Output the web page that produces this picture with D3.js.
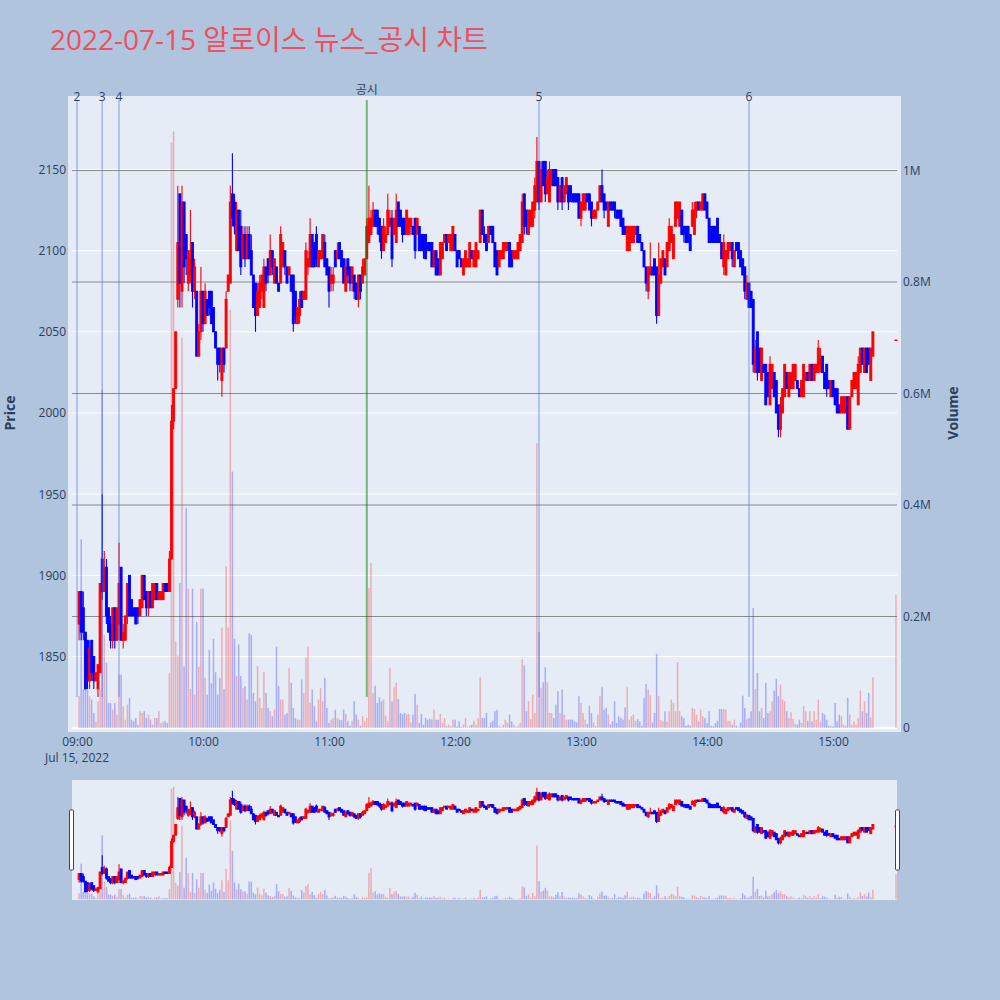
<!DOCTYPE html>
<html><head><meta charset="utf-8">
<script src="https://cdn.jsdelivr.net/npm/d3@7"></script>
<style>
body{margin:0;background:#B0C4DE;}
svg{display:block;font-family:"Open Sans","Noto Sans CJK KR",sans-serif;}
</style>
</head><body>
<svg id="chart" width="1000" height="1000"></svg>
<script>
// ---------------- DATA ----------------
const chartTitle = "2022-07-15 알로이스 뉴스_공시 차트";
const tradeDate = [2022, 6, 15];
const firstBar = "09:01";          // one bar per minute from 09:01 to 15:19
const closingAuction = "15:30";    // single closing-auction bar

const opens = [
1870,1890,1880,1865,1860,1835,1860,1850,1835,1830,
1840,1910,1890,1905,1880,1870,1860,1880,1860,1870,
1905,1860,1860,1875,1900,1885,1880,1880,1880,1875,
1880,1900,1890,1880,1890,1880,1885,1895,1885,1885,
1885,1895,1895,1890,1910,1995,2015,
2070,2135,2075,2130,2110,2080,2085,2105,2075,2075,
2035,2050,2075,2055,2070,2075,2075,2065,2050,2040,
2040,2020,2040,2040,2075,2080,2135,2130,
2100,2125,2115,2095,2110,2095,2110,2100,2085,2080,
2060,2065,2075,2065,2090,2095,2085,2100,2080,2090,
2080,2080,2090,2100,2090,2085,2085,2085,2075,2055,
2060,2075,2070,2070,2090,2090,2110,2105,2110,2090,
2095,2095,2105,2095,2090,2080,2080,2100,2095,2105,
2100,2095,2075,2095,2090,2080,2085,2080,2070,2085,
2080,2085,2095,2105,2110,2115,2125,2125,2120,2115,
2100,2105,2110,2115,2120,2110,2105,2130,2125,2120,
2120,2110,2110,2115,2115,2120,2110,2115,2110,2110,
2110,2105,2105,2105,2090,2100,2095,2085,2095,2105,
2110,2105,2100,2100,2110,2100,2100,2095,2085,2090,
2090,2090,2100,2090,2090,2095,2105,2125,2110,2110,
2105,2115,2115,2105,2100,2090,2095,2095,2100,2100,
2105,2100,2095,2095,2095,2100,2105,2135,2125,2110,
2115,2115,2125,2130,2155,2130,2155,2155,2135,2130,
2140,2150,2150,2145,2130,2145,2130,2135,2140,2140,
2135,2135,2135,2135,2120,2125,2125,2135,2135,2130,
2120,2120,2125,2130,2140,2135,2130,2115,2130,2130,
2130,2125,2125,2125,2120,2115,2100,2100,2105,2105,
2110,2115,2110,2105,2100,2090,2075,2085,2090,2095,
2090,2060,2080,2090,2095,2090,2100,2105,2095,2115,
2120,2115,2125,2115,2115,2115,2110,2115,2110,2125,
2130,2125,2125,2135,2130,2120,2115,2115,2115,2120,
2110,2105,2090,2085,2095,2100,2105,2090,
2105,2105,2100,2095,2090,2070,2080,2075,2070,2025,
2050,2040,2020,2030,2030,2025,2005,2015,2025,2020,
2005,1990,2000,2010,2025,2010,2015,2015,2020,2020,
2015,2010,2010,2020,2025,2020,2030,2020,2025,2025,
2030,2035,2025,2030,2020,2010,2020,2015,2015,2005,
2000,2000,2000,2010,1990,2010,2015,2015,2005,2025,
2040,2025,2040,2040,2020,2035,
2045];
const highs = [
1890,1890,1890,1865,1860,1860,1860,1850,1840,1845,
1895,1950,1915,1910,1880,1875,1880,1880,1880,1920,
1905,1870,1875,1895,1900,1885,1880,1880,1880,1885,
1900,1900,1890,1890,1890,1895,1895,1895,1890,1890,
1895,1895,1895,1915,2005,2015,2050,
2140,2135,2140,2130,2110,2100,2125,2105,2095,2075,
2055,2090,2075,2080,2070,2075,2075,2065,2050,2040,
2040,2040,2040,2075,2085,2140,2160,2135,
2130,2125,2125,2115,2115,2115,2115,2110,2085,2080,
2080,2085,2085,2095,2090,2095,2110,2100,2095,2090,
2080,2115,2105,2100,2090,2090,2085,2085,2075,2065,
2075,2075,2075,2105,2100,2120,2110,2105,2115,2100,
2100,2110,2110,2095,2090,2090,2090,2100,2105,2105,
2100,2095,2095,2095,2090,2090,2085,2080,2085,2085,
2095,2095,2120,2140,2125,2130,2125,2125,2120,2115,
2120,2115,2135,2125,2125,2120,2135,2130,2125,2120,
2120,2125,2120,2120,2115,2120,2120,2115,2110,2110,
2110,2105,2105,2105,2100,2100,2095,2105,2105,2110,
2110,2110,2110,2115,2110,2100,2100,2095,2095,2100,
2095,2105,2100,2100,2105,2100,2125,2125,2115,2110,
2115,2115,2115,2105,2100,2100,2100,2105,2105,2105,
2105,2100,2100,2100,2105,2110,2135,2135,2125,2125,
2125,2130,2145,2170,2155,2155,2155,2155,2150,2155,
2150,2150,2150,2145,2140,2145,2140,2145,2140,2140,
2135,2135,2135,2135,2130,2135,2135,2135,2135,2130,
2125,2125,2130,2140,2150,2135,2130,2130,2130,2130,
2130,2125,2125,2125,2120,2115,2115,2115,2115,2115,
2115,2115,2110,2105,2100,2090,2090,2105,2090,2095,
2090,2105,2095,2100,2095,2105,2120,2115,2110,2130,
2130,2130,2125,2115,2115,2115,2110,2130,2130,2130,
2130,2130,2135,2135,2130,2120,2115,2115,2115,2120,
2110,2105,2110,2100,2105,2105,2105,2100,
2105,2105,2100,2095,2090,2085,2080,2075,2070,2045,
2050,2040,2040,2030,2030,2025,2035,2030,2025,2020,
2005,2010,2015,2030,2025,2025,2025,2030,2030,2020,
2015,2020,2030,2025,2025,2030,2030,2030,2030,2045,
2040,2035,2025,2030,2020,2020,2020,2015,2015,2005,
2010,2010,2010,2010,2010,2020,2025,2025,2035,2040,
2040,2040,2040,2040,2040,2050,
2045];
const lows = [
1860,1860,1860,1830,1830,1830,1835,1830,1835,1825,
1840,1885,1890,1870,1865,1855,1855,1855,1860,1860,
1860,1855,1860,1870,1875,1875,1875,1870,1870,1875,
1880,1885,1875,1875,1880,1880,1885,1885,1885,1885,
1885,1890,1890,1890,1910,1990,2015,
2065,2065,2065,2080,2085,2075,2080,2065,2070,2035,
2035,2045,2050,2055,2060,2060,2055,2050,2040,2020,
2025,2010,2025,2040,2075,2080,2115,2110,
2100,2100,2085,2095,2090,2095,2095,2085,2065,2050,
2060,2065,2070,2065,2075,2080,2085,2085,2080,2080,
2075,2080,2090,2085,2080,2085,2075,2050,2055,2055,
2055,2065,2070,2070,2085,2090,2090,2090,2090,2090,
2095,2095,2090,2085,2065,2075,2075,2090,2095,2095,
2090,2080,2075,2080,2075,2075,2070,2070,2065,2070,
2080,2085,2095,2105,2110,2115,2115,2110,2105,2095,
2100,2105,2110,2115,2090,2110,2105,2115,2115,2105,
2110,2110,2110,2110,2110,2095,2110,2100,2100,2095,
2095,2100,2100,2090,2090,2085,2085,2085,2095,2105,
2100,2105,2100,2100,2100,2090,2095,2090,2085,2090,
2090,2090,2095,2090,2090,2095,2105,2110,2105,2100,
2105,2110,2105,2090,2085,2090,2095,2095,2100,2100,
2090,2090,2095,2095,2095,2100,2105,2110,2110,2110,
2115,2115,2120,2130,2125,2130,2140,2130,2135,2130,
2140,2140,2140,2125,2130,2125,2130,2135,2125,2130,
2130,2130,2130,2120,2115,2125,2125,2130,2125,2115,
2120,2120,2125,2130,2130,2120,2125,2115,2125,2125,
2120,2120,2120,2115,2110,2110,2100,2100,2105,2105,
2110,2105,2105,2100,2090,2075,2070,2085,2085,2085,
2055,2060,2080,2090,2085,2090,2100,2105,2095,2115,
2120,2115,2110,2105,2105,2105,2100,2115,2110,2120,
2125,2125,2125,2125,2120,2105,2105,2105,2105,2105,
2105,2095,2085,2085,2095,2100,2090,2090,
2100,2095,2090,2085,2070,2070,2065,2065,2025,2025,
2020,2025,2020,2025,2005,2010,2005,2015,2010,2000,
1985,1985,2000,2010,2015,2010,2015,2015,2020,2015,
2010,2010,2010,2020,2020,2020,2020,2020,2025,2025,
2025,2025,2015,2010,2015,2010,2010,2005,2000,2000,
2000,2000,2000,1990,1990,2010,2015,2015,2005,2025,
2030,2025,2025,2030,2020,2035,
2045];
const closes = [
1890,1865,1865,1830,1835,1855,1840,1835,1840,1845,
1895,1890,1905,1875,1865,1860,1880,1860,1880,1895,
1860,1865,1875,1895,1875,1875,1875,1870,1875,1885,
1900,1885,1880,1890,1880,1895,1895,1885,1890,1890,
1895,1890,1890,1910,1995,2015,2050,
2105,2080,2130,2090,2095,2100,2095,2075,2090,2035,
2050,2075,2055,2075,2060,2065,2055,2050,2040,2030,
2030,2040,2030,2070,2085,2130,2120,2115,
2125,2100,2090,2110,2095,2110,2095,2085,2065,2060,
2075,2080,2085,2090,2080,2085,2100,2090,2095,2080,
2075,2110,2105,2090,2080,2090,2075,2055,2060,2065,
2070,2065,2075,2100,2095,2110,2090,2090,2095,2100,
2100,2110,2090,2085,2075,2085,2085,2090,2100,2095,
2090,2080,2090,2085,2080,2090,2075,2070,2085,2075,
2090,2095,2115,2120,2120,2125,2115,2115,2110,2100,
2115,2110,2125,2120,2095,2120,2125,2115,2115,2110,
2110,2125,2120,2120,2110,2100,2120,2100,2100,2100,
2095,2100,2100,2090,2100,2085,2085,2105,2105,2110,
2100,2110,2110,2115,2100,2090,2095,2090,2095,2100,
2095,2105,2095,2100,2105,2100,2125,2110,2105,2100,
2115,2110,2105,2090,2085,2100,2100,2105,2105,2105,
2090,2090,2100,2100,2105,2110,2130,2115,2115,2125,
2125,2130,2140,2155,2130,2150,2140,2135,2145,2150,
2150,2140,2140,2130,2140,2130,2140,2145,2130,2135,
2130,2130,2130,2120,2130,2135,2135,2130,2125,2120,
2125,2125,2130,2140,2130,2125,2125,2130,2125,2125,
2125,2120,2120,2115,2110,2110,2115,2115,2115,2115,
2115,2105,2105,2100,2090,2080,2090,2090,2085,2085,
2060,2085,2095,2100,2085,2105,2115,2115,2110,2130,
2130,2130,2110,2110,2105,2105,2100,2125,2125,2130,
2125,2130,2135,2125,2120,2105,2105,2105,2105,2105,
2105,2095,2105,2100,2105,2105,2095,2100,
2100,2095,2090,2085,2075,2080,2065,2065,2030,2040,
2025,2025,2040,2025,2005,2010,2030,2030,2010,2000,
1990,2005,2015,2030,2015,2025,2025,2030,2030,2015,
2010,2020,2030,2025,2020,2030,2020,2030,2030,2040,
2035,2025,2015,2015,2015,2020,2010,2005,2000,2000,
2010,2010,2010,1990,2010,2020,2025,2025,2030,2040,
2030,2040,2025,2030,2040,2050,
2045];
// volume in thousands of shares
const volumesK = [
57,338,69,69,69,57,51,27,12,48,
69,607,167,117,45,45,33,45,24,96,
96,39,15,42,54,15,12,18,6,30,
27,30,18,24,15,6,18,18,30,9,
12,12,9,99,1050,1070,155,
130,260,700,110,395,250,70,250,60,190,
110,250,250,90,60,140,80,160,100,60,
90,180,70,290,180,750,460,160,
93,150,93,72,75,51,170,167,63,48,
111,54,36,100,63,36,30,21,33,146,
75,51,51,24,27,108,81,36,18,15,
15,87,63,126,146,45,69,39,12,51,
72,48,90,36,9,15,18,33,18,15,
14,33,25,12,4,13,48,24,15,4,
21,12,18,251,296,63,76,45,55,48,
51,22,13,108,48,73,81,52,27,25,
27,25,25,10,24,61,42,9,25,6,
18,15,17,15,33,15,15,25,9,18,
3,6,3,15,15,3,12,2,6,18,
2,4,6,13,6,18,91,18,18,27,
2,10,13,30,33,4,2,6,15,10,
24,12,6,2,4,9,123,112,30,48,
16,60,27,511,172,72,82,109,82,27,
27,18,42,66,27,69,24,15,15,15,
15,12,10,57,45,27,15,7,40,27,
10,3,24,57,73,33,36,24,7,12,
48,9,21,18,15,37,73,15,21,24,
13,16,12,4,54,79,69,59,10,27,
133,57,14,12,30,12,30,51,45,30,
118,30,21,18,4,6,4,36,34,24,
12,33,21,18,9,30,4,3,9,13,
34,34,34,33,13,13,6,15,4,1,
10,58,36,16,18,30,215,70,99,30,
36,18,81,27,30,48,67,88,57,78,
51,48,30,18,28,16,7,6,15,9,
39,30,13,30,12,30,15,51,12,27,
24,15,4,4,3,45,12,24,21,6,
4,54,24,6,12,6,18,67,30,48,
27,63,19,91,
239];

const priceTicks = [1850, 1900, 1950, 2000, 2050, 2100, 2150];
const volumeTicks = [0, 200000, 400000, 600000, 800000, 1000000];
const volumeTickLabels = ["0", "0.2M", "0.4M", "0.6M", "0.8M", "1M"];
const hourTicks = ["09:00","10:00","11:00","12:00","13:00","14:00","15:00"];
const eventLabels = ["2", "3", "4", "공시", "5", "6"];
const eventTimes  = ["09:00", "09:12", "09:20", "11:18", "12:40", "14:20"];
const eventKinds  = ["news", "news", "news", "disclosure", "news", "news"];

// ---------------- BUILD ----------------
const at = (hm, s = 0) => { const [h, m] = hm.split(":").map(Number); return new Date(tradeDate[0], tradeDate[1], tradeDate[2], h, m, s); };
const nRegular = opens.length - 1;
const t0 = at(firstBar);
const times = d3.range(nRegular).map(i => d3.timeMinute.offset(t0, i)).concat([at(closingAuction)]);
const bars = times.map((t, i) => ({t, o: opens[i], h: highs[i], l: lows[i], c: closes[i], v: volumesK[i] * 1000}));

const svg = d3.select("#chart");
const C_TXT = "#2a3f5f";
const P = {l: 68, r: 901, t: 96, b: 732};        // plot background
const G = {l: 72, r: 897};                         // grid extent
const S = {l: 72, r: 897, t: 780, b: 900};        // range slider

const x = d3.scaleTime().domain([at("08:55", 43), at("15:32", 23)]).range([P.l, P.r]);
const yP = d3.scaleLinear().domain([1850, 2150]).range([656.5, 169.5]);
const yV = d3.scaleLinear().domain([0, 1000000]).range([728, 170.5]);
const ySP = d3.scaleLinear().domain([yP.invert(P.b), yP.invert(P.t)]).range([S.b, S.t]);
const ySV = d3.scaleLinear().domain([yV.invert(P.b), yV.invert(P.t)]).range([S.b, S.t]);

const lens = [opens, highs, lows, closes, volumesK].map(a => a.length);
if (new Set(lens).size > 1) svg.append("text").attr("x", 500).attr("y", 20).attr("fill", "black").text("LEN " + lens.join(","));

// title
svg.append("text").attr("x", 50).attr("y", 50).attr("font-size", 28).attr("fill", "#EF4F5F").text(chartTitle);

// plot background
svg.append("rect").attr("x", P.l).attr("y", P.t).attr("width", P.r - P.l).attr("height", P.b - P.t).attr("fill", "#E5ECF6");

// price gridlines
svg.append("g").selectAll("line").data(priceTicks).join("line")
  .attr("x1", G.l).attr("x2", G.r).attr("y1", d => yP(d)).attr("y2", d => yP(d))
  .attr("stroke", "#ffffff").attr("stroke-width", 1);
// volume gridlines
svg.append("g").selectAll("line").data(volumeTicks.filter(d => d > 0)).join("line")
  .attr("x1", G.l).attr("x2", G.r).attr("y1", d => yV(d)).attr("y2", d => yV(d))
  .attr("stroke", "#8a8a8a").attr("stroke-width", 1.2);
svg.append("line").attr("x1", G.l).attr("x2", G.r).attr("y1", yV(0)).attr("y2", yV(0))
  .attr("stroke", "#ffffff").attr("stroke-width", 2);

const UP = "#ff0000", DN = "#0000ff";
const col = d => d.c >= d.o ? UP : DN;

function drawTraces(g, yPrice, yVol, bodyW, volW) {
  g.append("g").selectAll("rect").data(bars).join("rect")
    .attr("x", d => x(d.t) - volW / 2).attr("width", volW)
    .attr("y", d => yVol(d.v)).attr("height", d => Math.max(0, yVol(0) - yVol(d.v)))
    .attr("fill", col).attr("fill-opacity", 0.27);
  const c = g.append("g").selectAll("g").data(bars).join("g");
  c.append("line").attr("x1", d => x(d.t)).attr("x2", d => x(d.t))
    .attr("y1", d => yPrice(d.h)).attr("y2", d => yPrice(d.l))
    .attr("stroke", col).attr("stroke-width", 1.1);
  c.append("rect").attr("x", d => x(d.t) - bodyW / 2).attr("width", bodyW)
    .attr("y", d => yPrice(Math.max(d.o, d.c)))
    .attr("height", d => Math.max(0.6, Math.abs(yPrice(d.o) - yPrice(d.c))))
    .attr("fill", col).attr("stroke", col).attr("stroke-width", 0.9);
}

// main traces
svg.append("clipPath").attr("id", "clipMain").append("rect").attr("x", P.l).attr("y", P.t).attr("width", P.r - P.l).attr("height", P.b - P.t);
drawTraces(svg.append("g").attr("clip-path", "url(#clipMain)"), yP, yV, 2.0, 1.5);

// event lines (above traces)
const ev = svg.append("g");
eventTimes.forEach((tm, i) => {
  const xx = x(at(tm));
  const disc = eventKinds[i] === "disclosure";
  ev.append("line").attr("x1", xx).attr("x2", xx).attr("y1", 100).attr("y2", 697)
    .attr("stroke", disc ? "#008000" : "#4169e1").attr("stroke-opacity", disc ? 0.5 : 0.42)
    .attr("stroke-width", disc ? 2 : 1.5);
  ev.append("text").attr("x", xx).attr("y", disc ? 94 : 101).attr("text-anchor", "middle")
    .attr("font-size", 12).attr("fill", C_TXT).text(eventLabels[i]);
});

// axes
const axL = svg.append("g").attr("transform", `translate(${P.l},0)`)
  .call(d3.axisLeft(yP).tickValues(priceTicks).tickSize(0).tickPadding(2).tickFormat(d3.format("d")));
const axR = svg.append("g").attr("transform", `translate(${P.r},0)`)
  .call(d3.axisRight(yV).tickValues(volumeTicks).tickSize(0).tickPadding(2).tickFormat((d, i) => volumeTickLabels[i]));
const axB = svg.append("g").attr("transform", `translate(0,${P.b})`)
  .call(d3.axisBottom(x).tickValues(hourTicks.map(h => at(h))).tickSize(0).tickPadding(5).tickFormat(d3.timeFormat("%H:%M")));
[axL, axR, axB].forEach(a => {
  a.select(".domain").remove();
  a.selectAll("text").attr("fill", C_TXT).attr("font-size", 12).attr("font-family", '"Open Sans", sans-serif');
});
svg.append("text").attr("x", x(at("09:00"))).attr("y", 762).attr("text-anchor", "middle")
  .attr("font-size", 12).attr("fill", C_TXT).text(d3.timeFormat("%b %d, %Y")(at("09:00")));

svg.append("text").attr("transform", "translate(15,413) rotate(-90)").attr("text-anchor", "middle")
  .attr("font-size", 14).attr("font-weight", "bold").attr("fill", C_TXT).text("Price");
svg.append("text").attr("transform", "translate(958,413) rotate(-90)").attr("text-anchor", "middle")
  .attr("font-size", 14).attr("font-weight", "bold").attr("fill", C_TXT).text("Volume");

// range slider
svg.append("rect").attr("x", S.l).attr("y", S.t).attr("width", S.r - S.l).attr("height", S.b - S.t).attr("fill", "#E5ECF6");
svg.append("clipPath").attr("id", "clipSlider").append("rect").attr("x", S.l).attr("y", S.t).attr("width", S.r - S.l).attr("height", S.b - S.t);
drawTraces(svg.append("g").attr("clip-path", "url(#clipSlider)"), ySP, ySV, 2.0, 1.5);
[S.l - 2.5, S.r - 1.5].forEach(hx => {
  svg.append("rect").attr("x", hx).attr("y", 810).attr("width", 4).attr("height", 60).attr("rx", 1)
    .attr("fill", "#ffffff").attr("stroke", "#444444").attr("stroke-width", 1);
});
</script>
</body></html>
